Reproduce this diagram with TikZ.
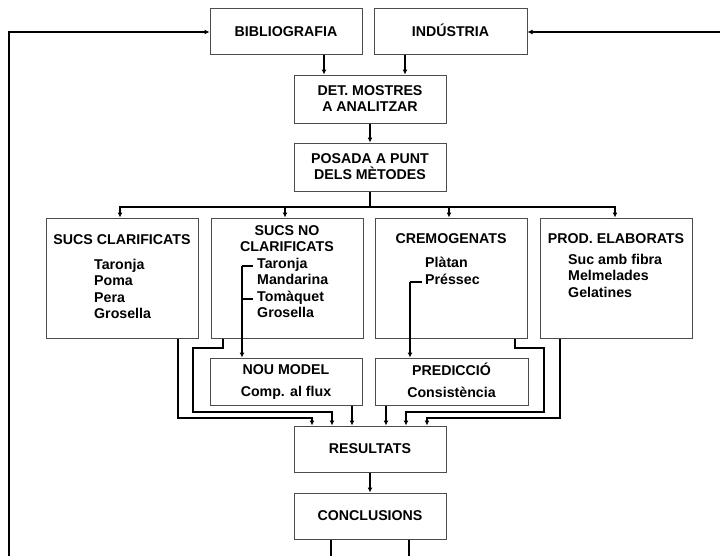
\documentclass[tikz,border=0pt]{standalone}
\usepackage{fontspec}
\setmainfont{Liberation Sans}
\usetikzlibrary{arrows.meta}
\tikzset{
  caixa/.style={draw=black!70, line width=1pt, minimum width=152pt, inner sep=0pt},
  fletxa/.style={line width=1.1pt, -{Latex[length=5pt,width=5pt]}},
  linia/.style={line width=1.1pt},
  titol/.style={font=\bfseries\fontsize{14.2}{16}\selectfont, align=center, inner sep=0pt},
  llista/.style={font=\bfseries\fontsize{14.2}{16.5}\selectfont, align=left, inner sep=0pt, anchor=north west}
}
\begin{document}
\begin{tikzpicture}[x=1pt, y=-1pt]
                        \useasboundingbox (0,0) rectangle (720,555);
                        
                        % Drawing boxes at the top
                        \node [caixa, minimum height=46pt] (bib) at (286,31) {};%
                        \node [titol, anchor=base] (bibtxt) at (286,36.5) {BIBLIOGRAFIA};%
                        \node [caixa, minimum width=153pt, minimum height=46pt] (ind) at (450.5,31) {};%
                        \node [titol, anchor=base] (indtxt) at (450.5,36.5) {INDÚSTRIA};%
                        
                        % Drawing box det
                        \node [caixa, minimum height=48pt] (det) at (370,99) {};%
                        \node [titol] (dettxt) at (det.center) {DET. MOSTRES\\A ANALITZAR};%
                        
                        % Drawing box posada
                        \node [caixa, minimum height=48pt] (posada) at (370,167) {};%
                        \node [titol] (posadatxt) at (posada.center) {POSADA A PUNT\\DELS MÈTODES};%
                        
                        % Drawing the four product boxes
                        \node [caixa, minimum height=120pt] (clar) at (122,278) {};%
                        \node [caixa, minimum height=120pt] (noclar) at (287,278) {};%
                        \node [caixa, minimum height=120pt] (crem) at (451,278) {};%
                        \node [caixa, minimum height=120pt] (prod) at (616,278) {};%
                        
                        % Texts of box clar
                        \node [titol] (clartit) at (122,240) {SUCS CLARIFICATS};%
                        \node [llista] (clarllista) at (94,259) {Taronja\\Poma\\Pera\\Grosella};%
                        
                        % Texts of box noclar
                        \node [titol] (noclartit) at (287,239) {SUCS NO\\CLARIFICATS};%
                        \node [llista] (noclarllista) at (257,258) {Taronja\\Mandarina\\Tomàquet\\Grosella};%
                        
                        % Texts of box crem
                        \node [titol] (cremtit) at (451,239) {CREMOGENATS};%
                        \node [llista] (cremllista) at (425,257) {Plàtan\\Préssec};%
                        
                        % Texts of box prod
                        \node [titol] (prodtit) at (616,239) {PROD. ELABORATS};%
                        \node [llista] (prodllista) at (568,254) {Suc amb fibra\\Melmelades\\Gelatines};%
                        
                        % Drawing boxes nou and pred
                        \node [caixa, minimum height=47pt] (nou) at (286,381.5) {};%
                        \node [titol] (noutit) at (286,370) {NOU MODEL};%
                        \node [titol] (noutxt) at (286,393) {Comp. al flux};%
                        \node [caixa, minimum height=47pt, minimum width=153pt] (pred) at (451.5,381.5) {};%
                        \node [titol] (predtit) at (451.5,369) {PREDICCIÓ};%
                        \node [titol] (predtxt) at (451.5,392) {Consistència};%
                        
                        % Drawing boxes res and conc
                        \node [caixa, minimum height=46pt] (res) at (370,449) {};%
                        \node [titol] (restxt) at (res.center) {RESULTATS};%
                        \node [caixa, minimum height=46pt] (conc) at (370,516) {};%
                        \node [titol] (conctxt) at (conc.center) {CONCLUSIONS};%
                        
                        % Drawing arrows at the top
                        \draw [fletxa] (bib.south -| 324,0) -- (det.north -| 324,0);%
                        \draw [fletxa] (ind.south -| 405,0) -- (det.north -| 405,0);%
                        \draw [fletxa] (det) -- (posada);%
                        
                        % Drawing the fork below posada
                        \coordinate (forc) at (370,207);%
                        \draw [linia] (posada.south) -- (forc);%
                        \draw [fletxa] (forc) -| (clar.north -| 120,0);%
                        \draw [fletxa] (forc) -| (noclar.north -| 285,0);%
                        \draw [fletxa] (forc) -| (crem.north -| 449,0);%
                        \draw [fletxa] (forc) -| (prod.north -| 615,0);%
                        
                        % Drawing brackets inside noclar and crem
                        \draw [linia] (253,266) -- (242,266);%
                        \draw [fletxa] (242,266) -- (nou.north -| 242,0);%
                        \draw [linia] (242,299) -- (253,299);%
                        \draw [linia] (422,282) -- (410,282);%
                        \draw [fletxa] (410,282) -- (pred.north -| 410,0);%
                        
                        % Drawing lines into res
                        \draw [fletxa] (clar.south -| 178,0) -- (178,418) -| (res.north -| 312,0);%
                        \draw [fletxa] (noclar.south -| 223,0) -- (223,348) -- (193,348) -- (193,412) -| (res.north -| 332,0);%
                        \draw [fletxa] (nou.south -| 352,0) -- (res.north -| 352,0);%
                        \draw [fletxa] (pred.south -| 386,0) -- (res.north -| 386,0);%
                        \draw [fletxa] (crem.south -| 515,0) -- (515,348) -- (544,348) -- (544,412) -| (res.north -| 406,0);%
                        \draw [fletxa] (prod.south -| 560,0) -- (560,418) -| (res.north -| 427,0);%
                        \draw [fletxa] (res) -- (conc);%
                        
                        % Drawing feedback lines
                        \draw [fletxa] (conc.south -| 331,0) -- (331,575) -- (9,575) -- (9,32) -- (bib.west |- 0,32);%
                        \draw [fletxa] (conc.south -| 409,0) -- (409,575) -- (740,575) -- (740,32) -- (ind.east |- 0,32);%
\end{tikzpicture}
\end{document}
